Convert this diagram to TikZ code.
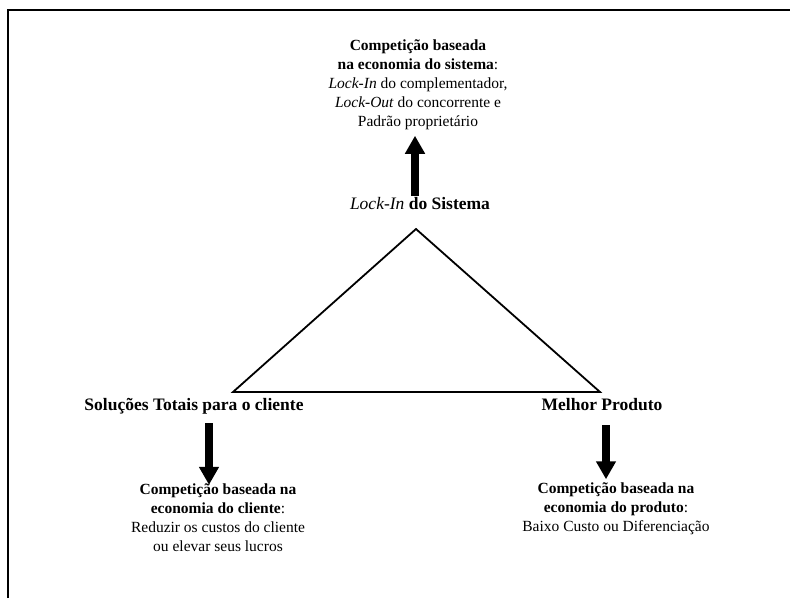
\documentclass[tikz,border=0pt]{standalone}
\usepackage{fontspec}
\setmainfont{Liberation Serif}
\usetikzlibrary{arrows.meta}
\tikzset{>=Stealth,every node/.style={font=\fontsize{15.5}{19}\selectfont,inner sep=0pt,align=center},
 vertice/.style={anchor=base,font=\fontsize{17.5}{21}\selectfont},
 bloco/.style={line width=8pt,-{Triangle[width=19pt,length=18pt]}},lado/.style={line width=1.8pt,line join=miter}}

\begin{document}
\begin{tikzpicture}[x=1pt,y=-1pt]
\useasboundingbox (0,0) rectangle (790,598);
% Moldura, aberta a direita e embaixo.
\draw[line width=2pt] (8,598)--(8,10)--(790,10);
% Triangulo das tres posicoes estrategicas.
\coordinate (topo) at (416,229);
\coordinate (esq) at (233,392);
\coordinate (dir) at (600,392);
\draw[lado] (topo)--(esq)--(dir)--cycle;
% Vertices.
\node[vertice] (lock) at (420,209){\textit{Lock-In} \textbf{do Sistema}};
\node[vertice] (sol) at (194,410){\textbf{Soluções Totais para o cliente}};
\node[vertice] (mel) at (602,410){\textbf{Melhor Produto}};
% Formas de competicao.
\node (sis) at (418,85){\textbf{Competição baseada}\\\textbf{na economia do sistema}:\\
 \textit{Lock-In} do complementador,\\\textit{Lock-Out} do concorrente e\\Padrão proprietário};
\node (cli) at (218,518){\textbf{Competição baseada na}\\\textbf{economia do cliente}:\\
 Reduzir os custos do cliente\\ou elevar seus lucros};
\node (pro) at (616,509){\textbf{Competição baseada na}\\\textbf{economia do produto}:\\
 Baixo Custo ou Diferenciação};
% Setas largas.
\coordinate (a) at ([xshift=-5pt]lock.north);
\coordinate (b) at ([xshift=-9pt]cli.north);
\coordinate (c) at ([xshift=-10pt]pro.north);
\draw[bloco,shorten <=1pt,shorten >=5.5pt] (a)--(a |- sis.south);
\draw[bloco,shorten <=13pt,shorten >=-1pt] (b |- sol.base)--(b);
\draw[bloco,shorten <=15pt,shorten >=3.5pt] (c |- mel.base)--(c);
\end{tikzpicture}
\end{document}
